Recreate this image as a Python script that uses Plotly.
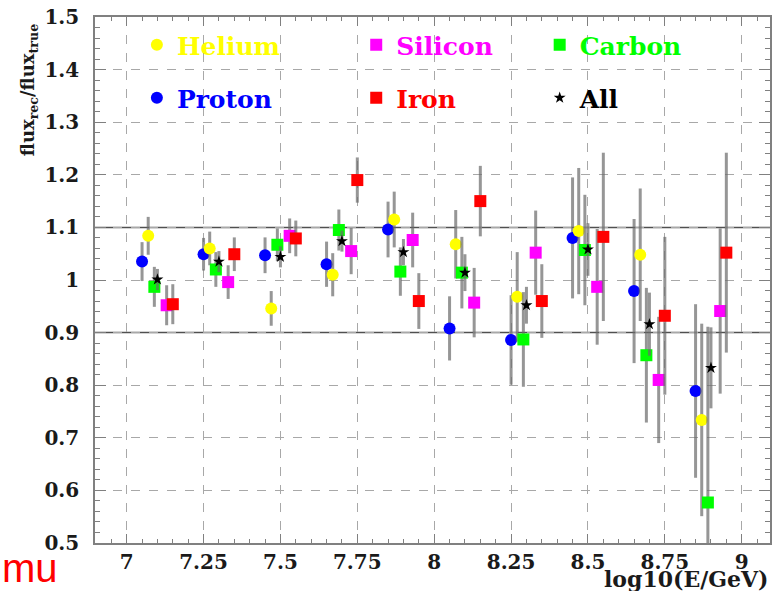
import plotly.graph_objects as go

# ---- data ----
proton_x = [7.05, 7.25, 7.45, 7.65, 7.85, 8.05, 8.25, 8.45, 8.65, 8.85]
proton_y = [1.035, 1.049, 1.047, 1.030, 1.096, 0.908, 0.886, 1.080, 0.979, 0.789]
proton_e = [0.037, 0.031, 0.034, 0.043, 0.053, 0.061, 0.085, 0.115, 0.137, 0.165]

helium_x = [7.07, 7.27, 7.47, 7.67, 7.87, 8.07, 8.27, 8.47, 8.67, 8.87]
helium_y = [1.084, 1.060, 0.946, 1.010, 1.115, 1.068, 0.968, 1.093, 1.048, 0.734]
helium_e = [0.036, 0.032, 0.033, 0.041, 0.053, 0.065, 0.085, 0.120, 0.126, 0.183]

carbon_x = [7.09, 7.29, 7.49, 7.69, 7.89, 8.09, 8.29, 8.49, 8.69, 8.89]
carbon_y = [0.987, 1.020, 1.067, 1.095, 1.016, 1.014, 0.887, 1.057, 0.857, 0.577]
carbon_e = [0.038, 0.033, 0.031, 0.039, 0.046, 0.068, 0.090, 0.105, 0.128, 0.334]

silicon_x = [7.13, 7.33, 7.53, 7.73, 7.93, 8.13, 8.33, 8.53, 8.73, 8.93]
silicon_y = [0.952, 0.996, 1.084, 1.055, 1.076, 0.957, 1.052, 0.987, 0.810, 0.941]
silicon_e = [0.038, 0.032, 0.033, 0.044, 0.052, 0.066, 0.080, 0.110, 0.120, 0.157]

iron_x = [7.15, 7.35, 7.55, 7.75, 7.95, 8.15, 8.35, 8.55, 8.75, 8.95]
iron_y = [0.954, 1.049, 1.079, 1.190, 0.960, 1.150, 0.960, 1.082, 0.932, 1.052]
iron_e = [0.038, 0.032, 0.034, 0.043, 0.053, 0.067, 0.070, 0.160, 0.150, 0.190]

all_x = [7.10, 7.30, 7.50, 7.70, 7.90, 8.10, 8.30, 8.50, 8.70, 8.90]
all_y = [1.001, 1.035, 1.044, 1.074, 1.053, 1.014, 0.952, 1.058, 0.916, 0.833]
all_e = [0.020, 0.020, 0.020, 0.020, 0.025, 0.035, 0.035, 0.050, 0.060, 0.077]

ref_lines = [0.9, 1.1]

# ---- styling ----
SERIF = "DejaVu Serif"
ERR_COLOR = "rgba(105,105,105,0.7)"
AX_COLOR = "#808080"
GRID_COLOR = "#a8a8a8"

series = [
    ("Proton", proton_x, proton_y, proton_e, "#0000ff", "circle", 12, "legend4"),
    ("Helium", helium_x, helium_y, helium_e, "#ffff00", "circle", 12, "legend"),
    ("Carbon", carbon_x, carbon_y, carbon_e, "#00ff00", "square", 12, "legend3"),
    ("Silicon", silicon_x, silicon_y, silicon_e, "#ff00ff", "square", 12, "legend2"),
    ("Iron", iron_x, iron_y, iron_e, "#ff0000", "square", 12, "legend5"),
    ("All", all_x, all_y, all_e, "#000000", "star", 9, "legend6"),
]

fig = go.Figure()
for name, xs, ys, es, col, sym, sz, lg in series:
    fig.add_trace(go.Scatter(
        x=xs, y=ys, mode="markers", name=name, legend=lg,
        marker=dict(color=col, symbol=sym, size=sz, line=dict(width=0)),
        error_y=dict(type="data", array=es, color=ERR_COLOR, thickness=3, width=0),
    ))

# plot-area geometry in pixels
W, H = 774, 591
L, R, T, B = 95, 2, 17, 48
PW, PH = W - L - R, H - T - B

def px_x(p):
    return (p - L) / PW

def px_y(p):
    return (H - B - p) / PH

legend_pos = {
    "legend": (137, 45, "#ffff00"),
    "legend2": (357, 45, "#ff00ff"),
    "legend3": (541, 45, "#00ff00"),
    "legend4": (137, 98, "#0000ff"),
    "legend5": (357, 98, "#ff0000"),
    "legend6": (541, 98, "#000000"),
}
legends = {}
for key, (lx, ly, lc) in legend_pos.items():
    legends[key] = dict(
        x=px_x(lx), y=px_y(ly), xanchor="left", yanchor="middle",
        bgcolor="rgba(0,0,0,0)", borderwidth=0,
        font=dict(family=SERIF, size=25, color=lc, weight="bold"),
    )

for v in ref_lines:
    fig.add_shape(type="line", xref="paper", x0=0, x1=1, yref="y", y0=v, y1=v,
                  line=dict(color="#505050", width=1.5), layer="below")

fig.update_layout(
    width=W, height=H,
    margin=dict(l=L, r=R, t=T, b=B),
    paper_bgcolor="white", plot_bgcolor="white",
    showlegend=True,
    **legends,
    xaxis=dict(
        range=[6.897, 9.092], dtick=0.25, tick0=7,
        showline=True, linecolor=AX_COLOR, linewidth=1.5, mirror="ticks",
        ticks="inside", ticklen=9, tickcolor=AX_COLOR, tickwidth=1,
        showgrid=True, gridcolor=GRID_COLOR, griddash="dash", gridwidth=1,
        zeroline=False,
        minor=dict(dtick=0.05, ticks="inside", ticklen=4, tickcolor=AX_COLOR, showgrid=False),
        tickfont=dict(family=SERIF, size=20, color="#1a1a1a", weight="bold"),
        ticklabelstandoff=0,
    ),
    yaxis=dict(
        range=[0.5, 1.5], dtick=0.1, tick0=0.5,
        showline=True, linecolor=AX_COLOR, linewidth=1.5, mirror="ticks",
        ticks="inside", ticklen=11, tickcolor=AX_COLOR, tickwidth=1,
        showgrid=True, gridcolor=GRID_COLOR, griddash="dash", gridwidth=1,
        zeroline=False,
        minor=dict(dtick=0.02, ticks="inside", ticklen=5, tickcolor=AX_COLOR, showgrid=False),
        tickfont=dict(family=SERIF, size=20, color="#1a1a1a", weight="bold"),
        ticklabelstandoff=10,
    ),
    annotations=[
        dict(text="flux<sub>rec</sub>/flux<sub>true</sub>", xref="paper", yref="paper",
             x=px_x(29), y=px_y(90), xanchor="center", yanchor="middle", textangle=-90,
             showarrow=False, font=dict(family=SERIF, size=18, color="#1a1a1a", weight="bold")),
        dict(text="log10(E/GeV)", xref="paper", yref="paper",
             x=px_x(773), y=px_y(579), xanchor="right", yanchor="middle",
             showarrow=False, font=dict(family=SERIF, size=22, color="#1a1a1a", weight="bold")),
        dict(text="mu", xref="paper", yref="paper",
             x=px_x(0), y=px_y(568), xanchor="left", yanchor="middle",
             showarrow=False, font=dict(family="Liberation Sans", size=40, color="#ff0000")),
    ],
)

fig.write_html("out.html")
